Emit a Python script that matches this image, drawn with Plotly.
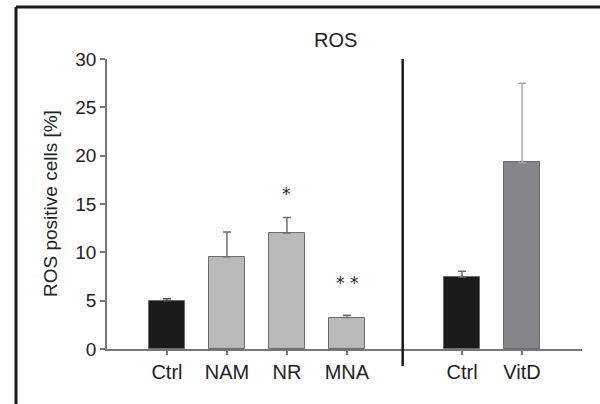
import plotly.graph_objects as go

categories = ["Ctrl", "NAM", "NR", "MNA", "Ctrl", "VitD"]
positions = [0, 1, 2, 3, 4.92, 5.92]
values = [5.0, 9.55, 12.0, 3.25, 7.45, 19.3]
errors = [0.2, 2.55, 1.6, 0.25, 0.6, 8.2]
bar_colors = ["#1c1a1b", "#b8b9bb", "#b8b9bb", "#b8b9bb", "#1c1a1b", "#85868a"]
err_colors = ["#555555", "#6e6e6e", "#6e6e6e", "#6e6e6e", "#6e6e6e", "#aaaaaa"]
sig_labels = ["", "", "*", "**", "", ""]
sig_y = [None, None, 16.0, 6.8, None, None]
divider_x = 3.93

FONT = "Liberation Sans, Arial, sans-serif"

fig = go.Figure()
for i in range(len(categories)):
    fig.add_trace(go.Bar(
        x=[positions[i]], y=[values[i]], width=0.6,
        marker=dict(color=bar_colors[i], line=dict(color="#6a6a6a", width=1)),
        error_y=dict(type="data", array=[errors[i]], arrayminus=[0], symmetric=False,
                     color=err_colors[i], thickness=1.5, width=4),
        showlegend=False, hoverinfo="skip",
    ))

for i, s in enumerate(sig_labels):
    if s:
        fig.add_annotation(x=positions[i], y=sig_y[i], text=" ".join(s), showarrow=False,
                           xanchor="center", yanchor="middle",
                           font=dict(family="DejaVu Sans", size=17, color="#2a2a2a"))

fig.add_annotation(xref="paper", yref="paper", x=(335 - 107) / 475, y=(349 - 40) / 290, text="ROS",
                   showarrow=False, xanchor="center", yanchor="middle",
                   font=dict(family=FONT, size=20, color="#222222"))
fig.add_annotation(xref="paper", yref="paper", x=(50 - 107) / 475, y=(349 - 204) / 290,
                   text="ROS positive cells [%]", textangle=-90, showarrow=False,
                   xanchor="center", yanchor="middle",
                   font=dict(family=FONT, size=19, color="#222222"))

# divider
fig.add_shape(type="line", xref="x", yref="paper", x0=divider_x, x1=divider_x, y0=-0.0586, y1=1.0,
              line=dict(color="#1c1a1b", width=2.5))
# frame (top and left)
fig.add_shape(type="line", xref="paper", yref="paper", x0=(16 - 107) / 475, x1=(600 - 107) / 475,
              y0=(349 - 7) / 290, y1=(349 - 7) / 290, line=dict(color="#1c1a1b", width=3))
fig.add_shape(type="line", xref="paper", yref="paper", x0=(16 - 107) / 475, x1=(16 - 107) / 475,
              y0=(349 - 7) / 290, y1=(349 - 410) / 290, line=dict(color="#1c1a1b", width=3))

fig.update_layout(
    width=600, height=404,
    margin=dict(l=107, r=18, t=59, b=55),
    paper_bgcolor="white", plot_bgcolor="white",
    font=dict(family=FONT, size=18, color="#222222"),
    bargap=0,
    xaxis=dict(range=[-1, 6.92], tickvals=positions, ticktext=categories,
               showline=True, linecolor="#777777", linewidth=1.5,
               ticks="outside", ticklen=4, tickcolor="#777777", tickwidth=1.5,
               showgrid=False, zeroline=False, fixedrange=True,
               tickfont=dict(family=FONT, size=20, color="#222222")),
    yaxis=dict(range=[0, 30], tickvals=[0, 5, 10, 15, 20, 25, 30],
               showline=True, linecolor="#777777", linewidth=1.5,
               ticks="outside", ticklen=5, tickcolor="#777777", tickwidth=1.5,
               showgrid=False, zeroline=False, fixedrange=True,
               tickfont=dict(family=FONT, size=19, color="#222222")),
)

fig.write_html("out.html", config={"displayModeBar": False},
               post_script="document.body.style.margin='0';document.body.style.padding='0';")
